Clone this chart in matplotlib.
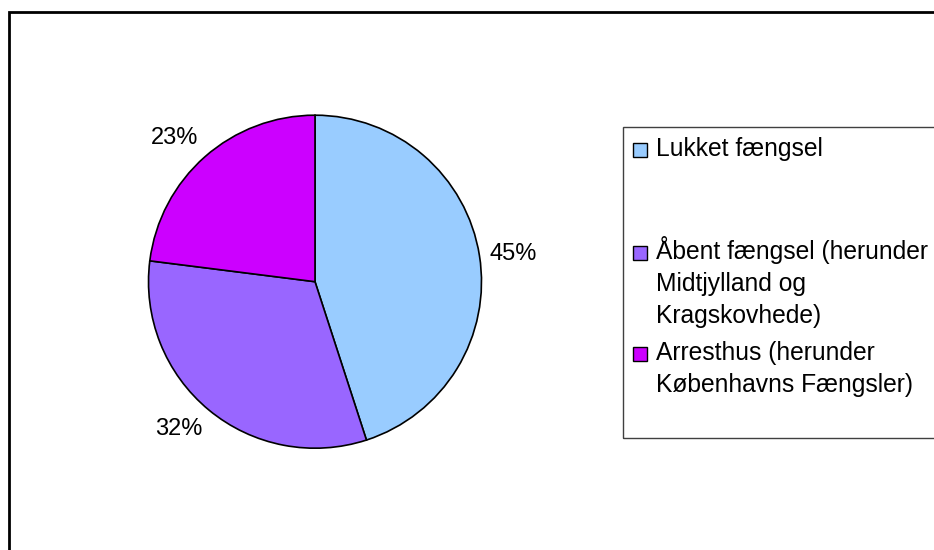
import matplotlib
matplotlib.use('Agg')
import matplotlib.pyplot as plt
from matplotlib.patches import Rectangle

plt.rcParams['font.family'] = ['Liberation Sans', 'DejaVu Sans']

# data
categories = ['Lukket fængsel',
              'Åbent fængsel (herunder\nMidtjylland og\nKragskovhede)',
              'Arresthus (herunder\nKøbenhavns Fængsler)']
shares = [45, 32, 23]
colors = ['#99CCFF', '#9966FF', '#CC00FF']

W, H = 934, 550
fig = plt.figure(figsize=(W / 100, H / 100), dpi=100)

def px(x, y):
    # pixel coords (from top-left) -> figure fraction
    return x / W, 1 - y / H

# outer chart frame (runs off the right and bottom edge)
fig.patches.append(Rectangle(px(8.5, 600), 1000 / W, 588.5 / H, transform=fig.transFigure,
                             fill=False, edgecolor='black', linewidth=2))

# pie
cx, cy, r = 315, 281.7, 166.5
ax = fig.add_axes([(cx - r) / W, (H - cy - r) / H, 2 * r / W, 2 * r / H])
wedges, texts = ax.pie(shares, colors=colors, startangle=90, counterclock=False,
                       labels=['%d%%' % s for s in shares], labeldistance=1.06,
                       wedgeprops=dict(edgecolor='black', linewidth=1.2),
                       textprops=dict(fontsize=17))
for t in texts:
    x, y = t.get_position()
    if abs(y) < 0.5:
        t.set_va('center')
    else:
        t.set_va('bottom' if y > 0 else 'top')
ax.set_xlim(-1, 1)
ax.set_ylim(-1, 1)
ax.axis('off')

# legend box
lx0, ly0, lx1, ly1 = 623, 127, 1000, 438
fig.patches.append(Rectangle(px(lx0, ly1), (lx1 - lx0) / W, (ly1 - ly0) / H,
                             transform=fig.transFigure, fill=False,
                             edgecolor='#404040', linewidth=1))
baselines = [156, 259, 360]
step = 32
for lab, col, yb in zip(categories, colors, baselines):
    fig.patches.append(Rectangle(px(633, yb + 1), 14 / W, 14 / H, transform=fig.transFigure,
                                 facecolor=col, edgecolor='black', linewidth=1))
    for i, line in enumerate(lab.split('\n')):
        fig.text(*px(656, yb + i * step), line, fontsize=17.7, va='baseline', ha='left')

fig.savefig('out.png', dpi=100)
